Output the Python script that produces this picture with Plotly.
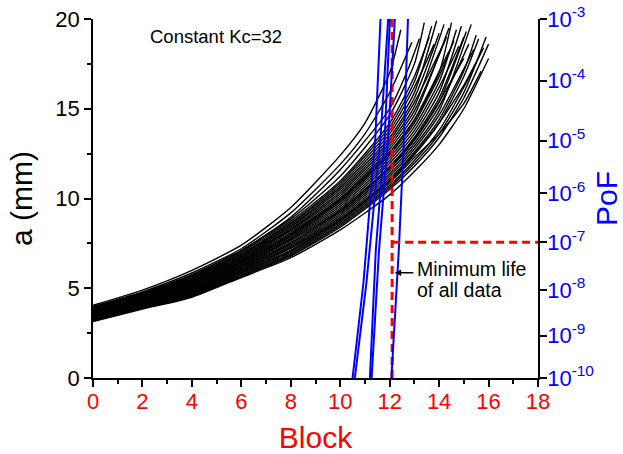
import numpy as np
import plotly.graph_objects as go

# ---------------- data ----------------
# crack-growth curves: block number and crack length a (mm)
CURVE_BLOCKS = [
    [0, 2, 4, 6, 8, 10, 11, 12, 12.45],
    [0, 2, 4, 6, 8, 10, 11, 12, 12.9],
    [0, 2, 4, 6, 8, 10, 12, 12.8, 13.2],
    [0, 2, 4, 6, 8, 10, 12, 13, 13.4],
    [0, 2, 4, 6, 8, 10, 12, 13, 13.6],
    [0, 2, 4, 6, 8, 10, 12, 13, 13.7],
    [0, 2, 4, 6, 8, 10, 12, 13, 13.8],
    [0, 2, 4, 6, 8, 10, 12, 13, 13.9],
    [0, 2, 4, 6, 8, 10, 12, 13, 14.0],
    [0, 2, 4, 6, 8, 10, 12, 13, 14.1],
    [0, 2, 4, 6, 8, 10, 12, 13, 14.2],
    [0, 2, 4, 6, 8, 10, 12, 13, 14.3],
    [0, 2, 4, 6, 8, 10, 12, 13, 14.4],
    [0, 2, 4, 6, 8, 10, 12, 13, 14.4],
    [0, 2, 4, 6, 8, 10, 12, 13, 14, 14.5],
    [0, 2, 4, 6, 8, 10, 12, 13, 14, 14.6],
    [0, 2, 4, 6, 8, 10, 12, 13, 14, 14.7],
    [0, 2, 4, 6, 8, 10, 12, 13, 14, 14.8],
    [0, 2, 4, 6, 8, 10, 12, 13, 14, 14.9],
    [0, 2, 4, 6, 8, 10, 12, 13, 14, 15.0],
    [0, 2, 4, 6, 8, 10, 12, 13, 14, 15.0],
    [0, 2, 4, 6, 8, 10, 12, 13, 14, 15.1],
    [0, 2, 4, 6, 8, 10, 12, 13, 14, 15.2],
    [0, 2, 4, 6, 8, 10, 12, 13, 14, 15.3],
    [0, 2, 4, 6, 8, 10, 12, 13, 14, 15.4],
    [0, 2, 4, 6, 8, 10, 12, 13, 14, 15, 15.5],
    [0, 2, 4, 6, 8, 10, 12, 13, 14, 15, 15.5],
    [0, 2, 4, 6, 8, 10, 12, 13, 14, 15, 15.6],
    [0, 2, 4, 6, 8, 10, 12, 13, 14, 15, 15.7],
    [0, 2, 4, 6, 8, 10, 12, 13, 14, 15, 15.8],
    [0, 2, 4, 6, 8, 10, 12, 13, 14, 15, 15.9],
    [0, 2, 4, 6, 8, 10, 12, 13, 14, 15, 16.0],
    [0, 2, 4, 6, 8, 10, 12, 13, 14, 15, 16.0],
]
CURVE_A = [
    [4.05, 4.90, 6.00, 7.40, 9.50, 12.40, 14.20, 17.00, 19.40],
    [3.98, 4.80, 5.85, 7.20, 9.20, 11.90, 13.60, 15.90, 18.70],
    [3.92, 4.72, 5.75, 7.10, 8.95, 11.60, 15.00, 17.40, 18.90],
    [3.95, 4.75, 5.75, 7.10, 8.85, 11.24, 14.64, 17.50, 19.80],
    [3.91, 4.70, 5.69, 7.03, 8.74, 10.98, 14.20, 16.80, 19.00],
    [3.87, 4.66, 5.63, 6.95, 8.64, 10.86, 14.00, 16.50, 19.60],
    [3.85, 4.63, 5.59, 6.91, 8.57, 10.74, 13.80, 16.20, 18.60],
    [3.81, 4.60, 5.54, 6.85, 8.48, 10.62, 13.60, 15.90, 19.90],
    [3.79, 4.57, 5.50, 6.80, 8.42, 10.50, 13.40, 15.60, 19.20],
    [3.76, 4.53, 5.45, 6.74, 8.33, 10.38, 13.24, 15.36, 18.40],
    [3.73, 4.50, 5.41, 6.70, 8.27, 10.26, 13.08, 15.12, 19.70],
    [3.71, 4.48, 5.38, 6.65, 8.21, 10.14, 12.92, 14.88, 19.00],
    [3.68, 4.44, 5.33, 6.59, 8.12, 10.02, 12.76, 14.64, 19.50],
    [3.65, 4.41, 5.29, 6.55, 8.05, 9.95, 12.60, 14.40, 18.20],
    [3.63, 4.39, 5.25, 6.50, 7.99, 9.88, 12.55, 14.35, 17.00, 19.80],
    [3.61, 4.36, 5.21, 6.46, 7.93, 9.79, 12.44, 14.20, 16.80, 18.80],
    [3.58, 4.33, 5.18, 6.41, 7.86, 9.68, 12.28, 14.00, 16.50, 19.40],
    [3.55, 4.30, 5.13, 6.35, 7.78, 9.57, 12.12, 13.80, 16.20, 18.50],
    [3.53, 4.27, 5.09, 6.31, 7.71, 9.46, 11.96, 13.60, 15.90, 19.60],
    [3.50, 4.24, 5.05, 6.26, 7.65, 9.35, 11.80, 13.40, 15.60, 19.00],
    [3.47, 4.20, 5.00, 6.20, 7.56, 9.30, 11.70, 13.30, 15.40, 17.80],
    [3.45, 4.18, 4.96, 6.16, 7.50, 9.25, 11.66, 13.24, 15.36, 19.30],
    [3.42, 4.15, 4.93, 6.11, 7.43, 9.15, 11.52, 13.08, 15.12, 18.60],
    [3.39, 4.11, 4.88, 6.05, 7.35, 9.05, 11.38, 12.92, 14.88, 19.70],
    [3.37, 4.09, 4.84, 6.00, 7.28, 8.95, 11.24, 12.76, 14.64, 18.30],
    [3.34, 4.06, 4.80, 5.96, 7.22, 8.85, 11.10, 12.60, 14.40, 17.10, 19.10],
    [3.31, 4.02, 4.75, 5.90, 7.13, 8.80, 11.00, 12.50, 14.20, 16.30, 17.60],
    [3.29, 3.99, 4.71, 5.86, 7.07, 8.76, 10.98, 12.44, 14.20, 16.80, 18.90],
    [3.26, 3.97, 4.68, 5.81, 7.00, 8.67, 10.86, 12.28, 13.60, 15.30, 17.10],
    [3.23, 3.93, 4.63, 5.75, 6.92, 8.58, 10.74, 12.12, 13.80, 16.20, 18.40],
    [3.21, 3.90, 4.59, 5.70, 6.85, 8.49, 10.62, 11.96, 13.60, 15.90, 19.00],
    [3.18, 3.88, 4.55, 5.66, 6.79, 8.40, 10.50, 11.80, 13.40, 15.60, 18.60],
    [3.15, 3.84, 4.50, 5.60, 6.70, 8.25, 10.20, 11.50, 13.00, 15.00, 17.80],
]

# probability-of-failure curves: block and log10(PoF)
POF_BLOCKS = [
    [10.50, 10.94, 11.42, 11.63],
    [10.59, 11.06, 11.63, 11.94],
    [11.20, 11.44, 11.80, 12.01],
    [11.27, 11.57, 11.94, 12.21],
    [12.07, 12.37, 12.58, 12.74],
]
POF_LOG10 = [
    [-10, -7.85, -4.95, -3.0],
    [-10, -7.85, -4.95, -3.0],
    [-10, -7.16, -4.95, -3.0],
    [-10, -7.16, -4.95, -3.0],
    [-10, -7.16, -4.95, -3.0],
]

MIN_LIFE = 12.1          # minimum life of all data (block)
TARGET_POF_LOG10 = -7    # PoF threshold 10^-7

# right (probability-paper) axis: decade exponents and their axis positions
TICK_EXP = [-10, -9, -8, -7, -6, -5, -4, -3]
TICK_POS = [0, 42.3, 88, 135.7, 184.7, 237.3, 297, 358.7]
TICK_TEXT = [f"10<sup>{e}</sup>" for e in TICK_EXP]

X_TICKS = list(range(0, 19, 2))
Y_TICKS = [0, 5, 10, 15, 20]


def pof_axis(logp):
    return np.interp(logp, TICK_EXP, TICK_POS)


FONT = "Liberation Sans, Arial, sans-serif"

fig = go.Figure()

for b, a in zip(CURVE_BLOCKS, CURVE_A):
    fig.add_trace(go.Scatter(
        x=b, y=a, mode="lines",
        line=dict(color="black", width=1.4, shape="spline", smoothing=0.6),
        showlegend=False, hoverinfo="skip"))

for b, lp in zip(POF_BLOCKS, POF_LOG10):
    fig.add_trace(go.Scatter(
        x=b, y=pof_axis(np.array(lp)), mode="lines", yaxis="y2",
        line=dict(color="#0000ff", width=2),
        showlegend=False, hoverinfo="skip"))

# minimum life vertical line and PoF threshold horizontal line
fig.add_trace(go.Scatter(
    x=[MIN_LIFE, MIN_LIFE], y=[0, 20], mode="lines",
    line=dict(color="#ff0000", width=3, dash="8px,5px"),
    showlegend=False, hoverinfo="skip"))
fig.add_trace(go.Scatter(
    x=[MIN_LIFE, 18], y=[pof_axis(TARGET_POF_LOG10)] * 2, mode="lines",
    yaxis="y2",
    line=dict(color="#ff0000", width=3, dash="8px,5px"),
    showlegend=False, hoverinfo="skip"))

axis_common = dict(
    showline=True, linecolor="black", linewidth=1.5,
    ticks="outside", ticklen=7, tickwidth=1.5, tickcolor="black",
    showgrid=False, zeroline=False, mirror=False, automargin=False,
)

fig.update_layout(
    width=623, height=454,
    margin=dict(l=92.5, r=84.5, t=19, b=76, autoexpand=False),
    paper_bgcolor="white", plot_bgcolor="white",
    font=dict(family=FONT, color="black"),
    xaxis=dict(
        range=[0, 18], tickvals=X_TICKS,
        tickfont=dict(size=22, color="#ff0000"),
        title=dict(text="Block", font=dict(size=30, color="#ff0000"), standoff=20),
        minor=dict(dtick=1, ticklen=4, tickwidth=1.5, tickcolor="black", ticks="outside"),
        ticklabelstandoff=-4,
        **axis_common),
    yaxis=dict(
        range=[0, 20], tickvals=Y_TICKS,
        tickfont=dict(size=22, color="black"),
        title=dict(text="a (mm)", font=dict(size=30, color="black"), standoff=14),
        minor=dict(dtick=2.5, ticklen=4, tickwidth=1.5, tickcolor="black", ticks="outside"),
        **axis_common),
    yaxis2=dict(
        overlaying="y", side="right", range=[0, 358.7],
        tickvals=TICK_POS, ticktext=TICK_TEXT,
        tickfont=dict(size=22, color="#0000ff"),
        title=dict(text="PoF", font=dict(size=30, color="#0000ff"), standoff=26),
        ticklabelstandoff=-4,
        **axis_common),
    annotations=[
        dict(x=2.24, y=19.0, xref="x", yref="y", text="Constant Kc=32",
             showarrow=False, xanchor="left", yanchor="middle",
             font=dict(size=18.5, color="black", family=FONT)),
        dict(x=13.08, y=pof_axis(-7.57), xref="x", yref="y2", text="Minimum life",
             showarrow=False, xanchor="left", yanchor="middle", height=20,
             borderpad=0,
             font=dict(size=19.5, color="black", family=FONT)),
        dict(x=13.08, y=pof_axis(-8.01), xref="x", yref="y2", text="of all data",
             showarrow=False, xanchor="left", yanchor="middle", height=20,
             borderpad=0,
             font=dict(size=19.5, color="black", family=FONT)),
        dict(x=12.2, y=pof_axis(-7.64), xref="x", yref="y2",
             ax=13.02, ay=pof_axis(-7.64), axref="x", ayref="y2",
             text="", showarrow=True, arrowhead=2, arrowsize=1,
             arrowwidth=1.3, arrowcolor="black", standoff=0, startstandoff=0),
    ],
)

fig.write_html(
    "out.html",
    config={"displayModeBar": False},
    post_script="document.body.style.margin='0';document.body.style.padding='0';",
)
